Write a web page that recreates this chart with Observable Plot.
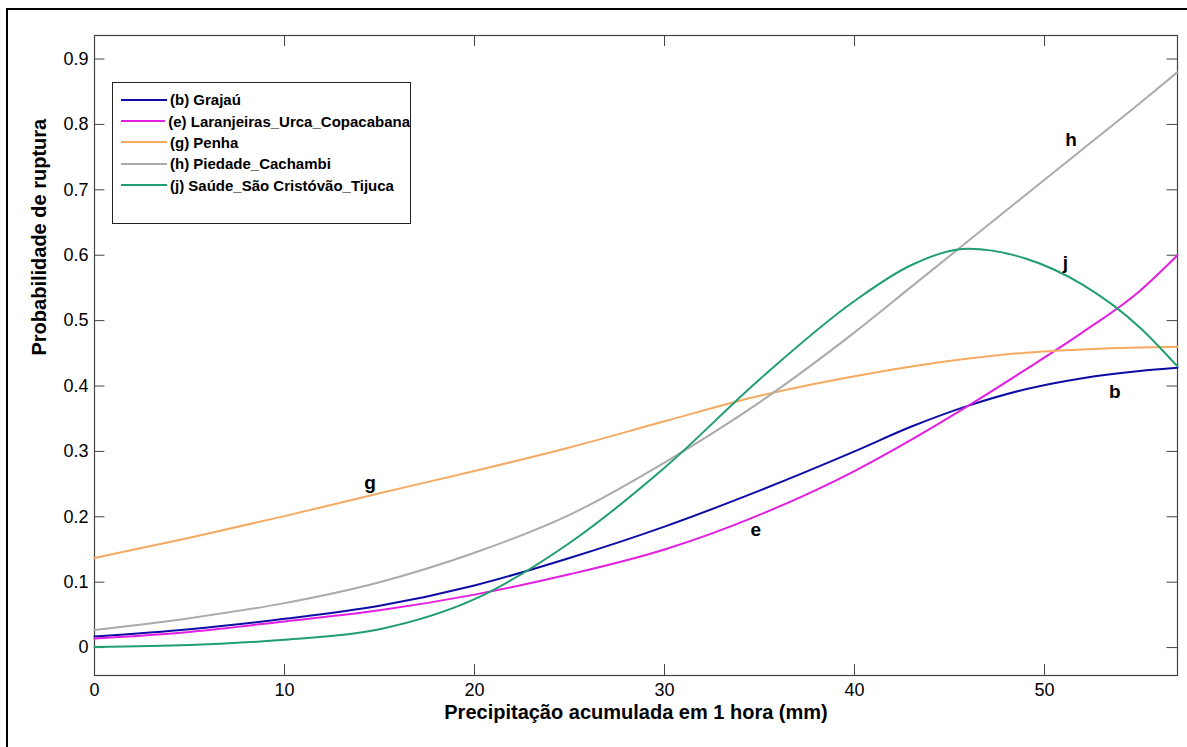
<!DOCTYPE html>
<html>
<head>
<meta charset="utf-8">
<script src="https://cdn.jsdelivr.net/npm/d3@7"></script>
<script src="https://cdn.jsdelivr.net/npm/@observablehq/plot@0.6"></script>
<style>
  html, body { margin: 0; padding: 0; background: #fff; }
  #wrap { position: relative; width: 1187px; height: 747px; overflow: hidden; font-family: "Liberation Sans", Arial, sans-serif; }
  #outer { position: absolute; left: 6px; top: 8px; width: 1300px; height: 900px; border-left: 2px solid #000; border-top: 2px solid #000; box-sizing: border-box; }
  #chart { position: absolute; left: 0; top: 0; }
  #legend { position: absolute; left: 112px; top: 82px; width: 299px; height: 142px; border: 1px solid #222; background: #fff; box-sizing: border-box; padding-top: 6px; }
  .row { display: flex; align-items: center; height: 21.4px; }
  .sw { width: 46px; height: 0; border-top: 2px solid; margin-left: 8px; margin-right: 3px; }
  .lab { font: bold 15px "Liberation Sans", Arial, sans-serif; color: #000; white-space: nowrap; }
</style>
</head>
<body>
<div id="wrap">
  <div id="outer"></div>
  <div id="chart"></div>
  <div id="legend"></div>
</div>
<script>
// ---- data ----
const xs      = [0,     5,     10,    15,    20,    25,    30,    35,    40,    43,    46,    49,    52,    55,    57];
const grajau  = [0.017, 0.028, 0.044, 0.064, 0.095, 0.137, 0.185, 0.240, 0.300, 0.338, 0.370, 0.395, 0.412, 0.423, 0.428];
const laranj  = [0.014, 0.024, 0.040, 0.057, 0.081, 0.112, 0.150, 0.203, 0.270, 0.318, 0.370, 0.425, 0.482, 0.545, 0.600];
const penha   = [0.137, 0.168, 0.201, 0.236, 0.270, 0.306, 0.346, 0.385, 0.415, 0.430, 0.442, 0.451, 0.456, 0.459, 0.460];
const piedade = [0.027, 0.045, 0.068, 0.100, 0.145, 0.203, 0.283, 0.375, 0.482, 0.552, 0.622, 0.692, 0.762, 0.832, 0.880];
const saude   = [0.001, 0.004, 0.012, 0.028, 0.074, 0.160, 0.275, 0.410, 0.530, 0.585, 0.610, 0.595, 0.555, 0.490, 0.430];

const seriesNames = [
  "(b) Grajaú",
  "(e) Laranjeiras_Urca_Copacabana",
  "(g) Penha",
  "(h) Piedade_Cachambi",
  "(j) Saúde_São Cristóvão_Tijuca"
];
const seriesValues = [grajau, laranj, penha, piedade, saude];
const seriesColors = ["#0d0da6", "#e31fe3", "#f5aa62", "#ababab", "#1f9e70"];

const curveLabels = ["h", "j", "b", "e", "g"];
const curveLabelX = [51.4, 51.1, 53.7, 34.8, 14.5];
const curveLabelY = [0.776, 0.589, 0.391, 0.180, 0.252];

const xTicks = [0, 10, 20, 30, 40, 50];
const yTicks = [0, 0.1, 0.2, 0.3, 0.4, 0.5, 0.6, 0.7, 0.8, 0.9];
const xLabel = "Precipitação acumulada em 1 hora (mm)";
const yLabel = "Probabilidade de ruptura";

// ---- build ----
const rows = [];
seriesValues.forEach((vals, i) => vals.forEach((v, j) => rows.push({x: xs[j], y: v, s: seriesNames[i]})));
const labels = curveLabels.map((t, i) => ({t, x: curveLabelX[i], y: curveLabelY[i]}));

const xDom = [0, 57];
const yDom = [-0.0427, 0.936];
const tickLenY = 0.0168;  // inward tick length in y units
const tickLenX = 0.55;    // inward tick length in x units

const chart = Plot.plot({
  width: 1187,
  height: 747,
  marginLeft: 94,
  marginRight: 10,
  marginTop: 35,
  marginBottom: 72,
  style: {fontFamily: "'Liberation Sans', Arial, sans-serif", background: "transparent", color: "#000"},
  x: {domain: xDom},
  y: {domain: yDom},
  color: {domain: seriesNames, range: seriesColors},
  marks: [
    Plot.frame({stroke: "#444", strokeWidth: 1.2}),
    Plot.axisX({ticks: xTicks, tickSize: 0, tickPadding: 8, fontSize: 18, label: null}),
    Plot.axisY({ticks: yTicks, tickSize: 0, tickPadding: 6, fontSize: 18, label: null,
      tickFormat: d => d === 0 ? "0" : d.toFixed(1)}),
    Plot.ruleX(xTicks, {x: d => d, y1: yDom[0], y2: yDom[0] + tickLenY, stroke: "#444"}),
    Plot.ruleX(xTicks, {x: d => d, y1: yDom[1], y2: yDom[1] - tickLenY, stroke: "#444"}),
    Plot.ruleY(yTicks, {y: d => d, x1: xDom[0], x2: xDom[0] + tickLenX, stroke: "#444"}),
    Plot.ruleY(yTicks, {y: d => d, x1: xDom[1], x2: xDom[1] - tickLenX, stroke: "#444"}),
    Plot.line(rows, {x: "x", y: "y", z: "s", stroke: "s", strokeWidth: 2, curve: "monotone-x"}),
    Plot.text(labels, {x: "x", y: "y", text: "t", fontSize: 19, fontWeight: "bold", fill: "#000"}),
    Plot.text([xLabel], {frameAnchor: "bottom", dy: 43, text: d => d, fontSize: 20, fontWeight: "bold", fill: "#000"}),
    Plot.text([yLabel], {frameAnchor: "left", dx: -55, rotate: -90, text: d => d, fontSize: 20, fontWeight: "bold", fill: "#000"})
  ]
});
document.getElementById("chart").appendChild(chart);

const leg = document.getElementById("legend");
seriesNames.forEach((n, i) => {
  const r = document.createElement("div");
  r.className = "row";
  r.innerHTML = `<div class="sw" style="border-top-color:${seriesColors[i]}"></div><div class="lab">${n}</div>`;
  leg.appendChild(r);
});
</script>
</body>
</html>
